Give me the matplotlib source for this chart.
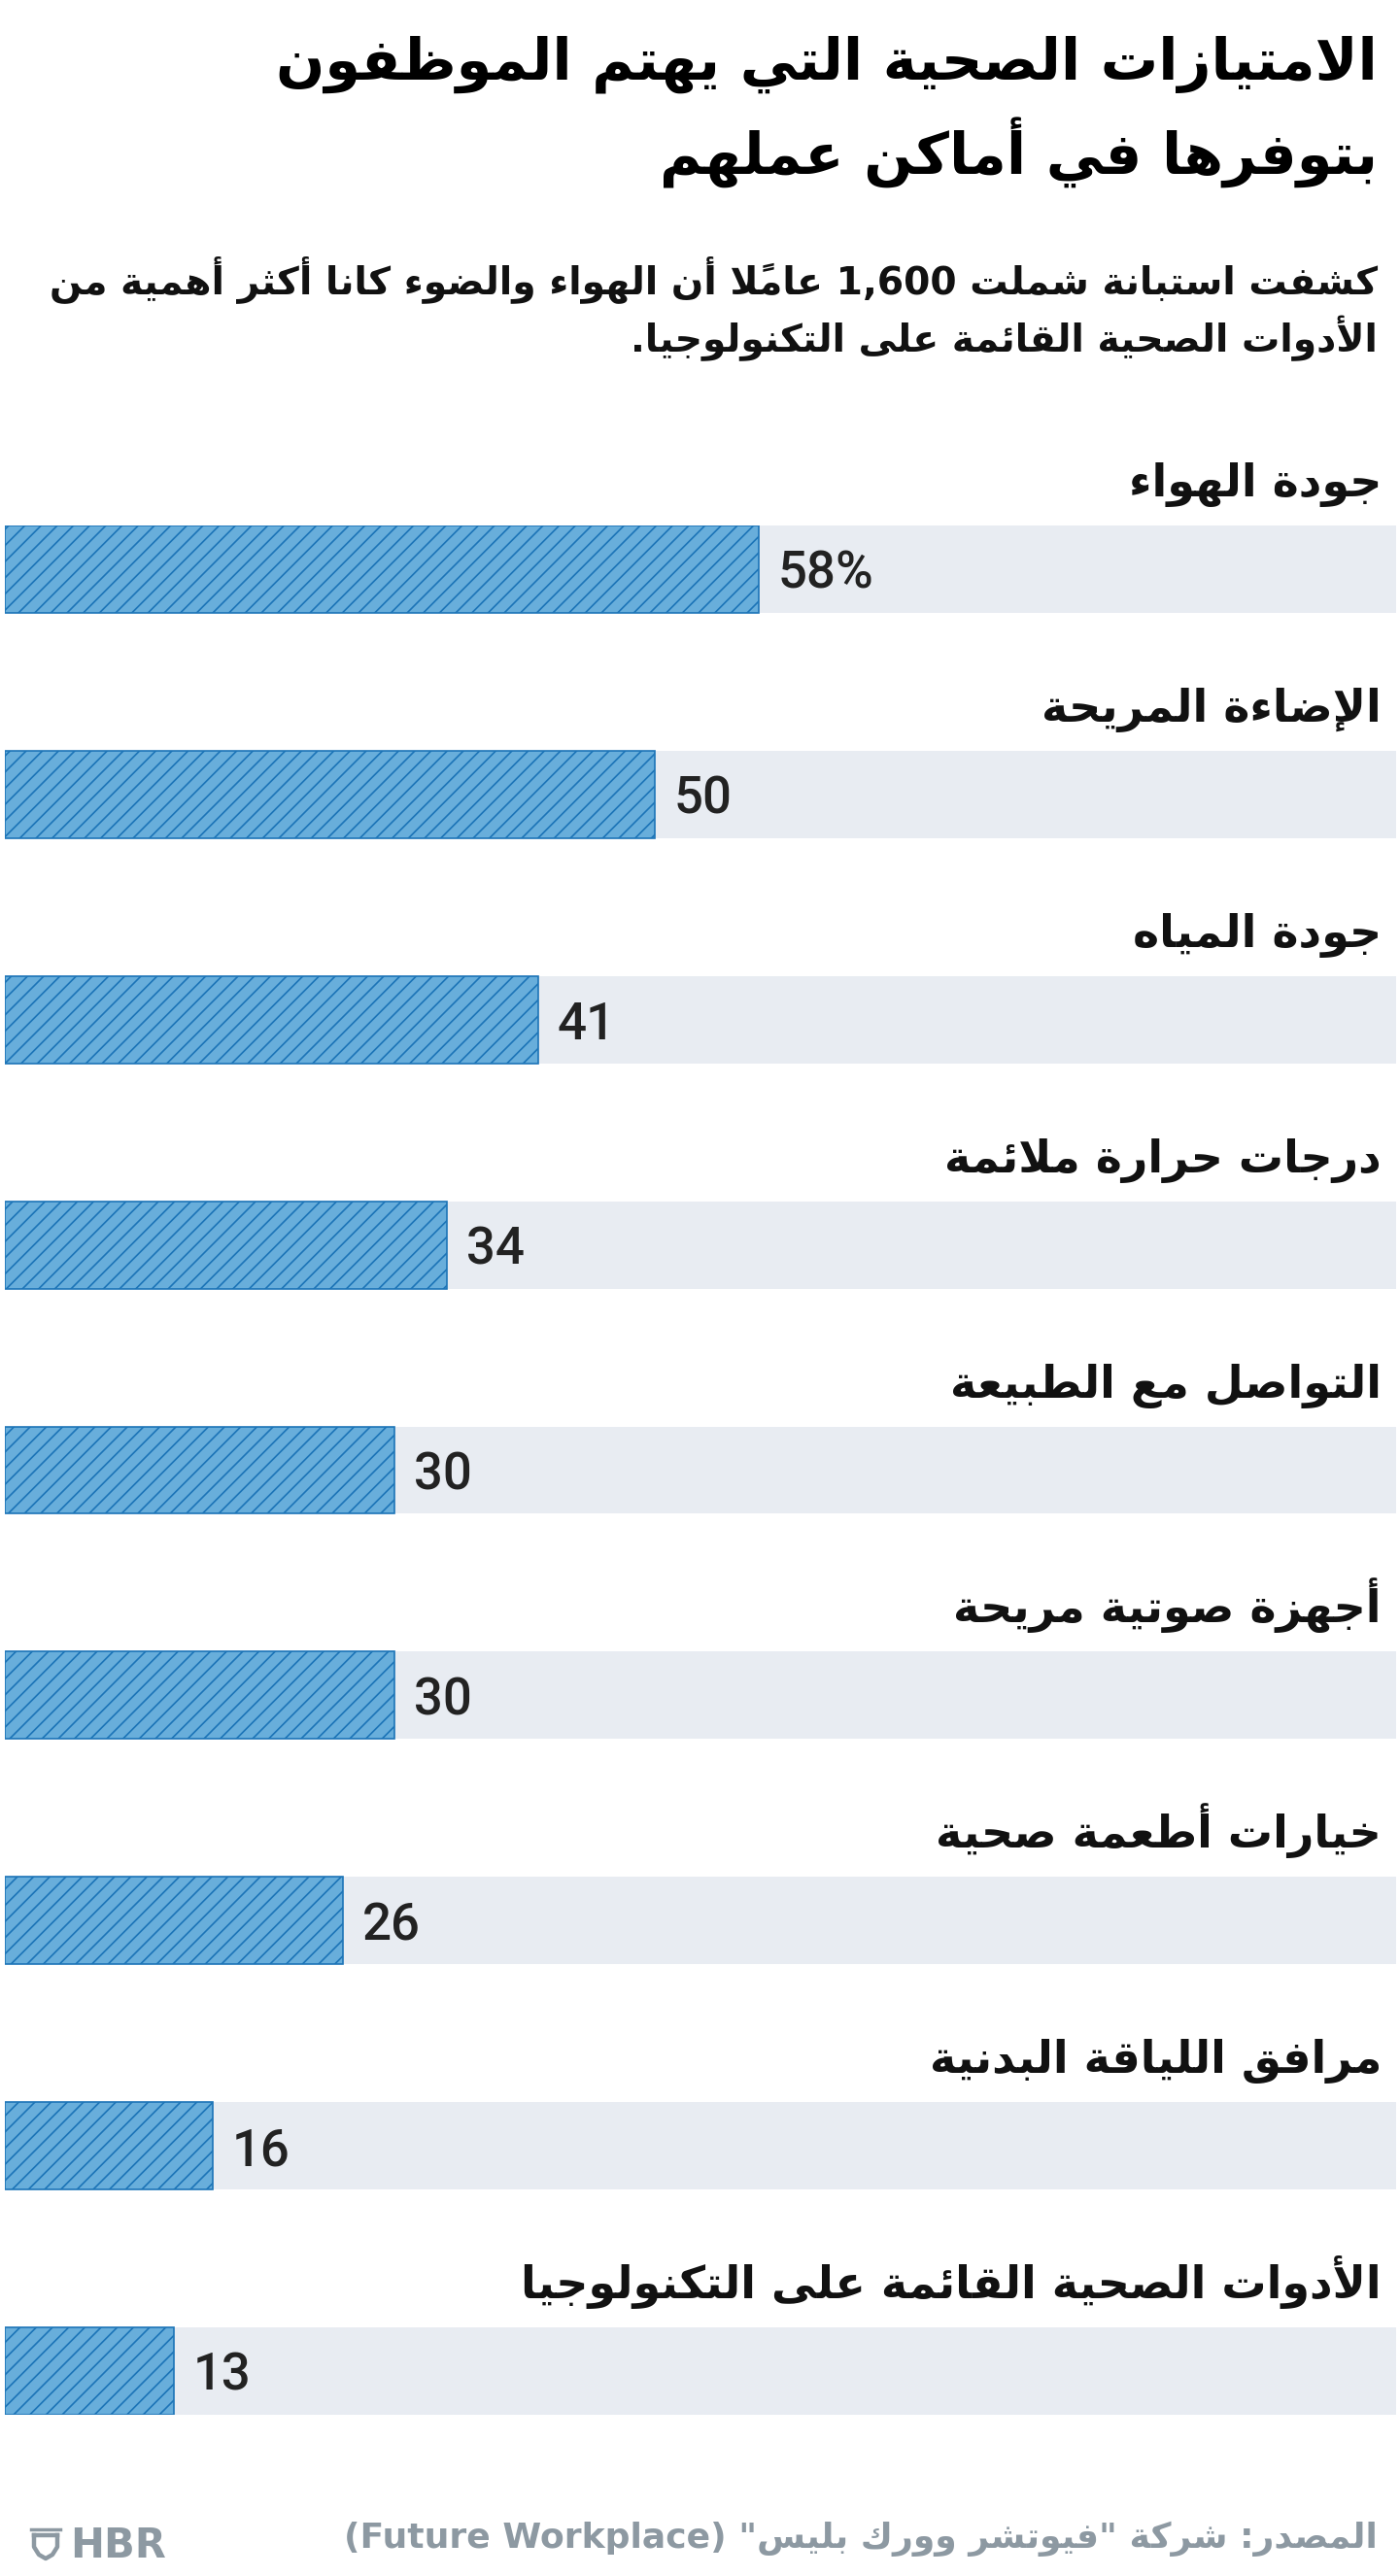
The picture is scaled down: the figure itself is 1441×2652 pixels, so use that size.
import matplotlib
matplotlib.use('Agg')
import matplotlib.pyplot as plt
import matplotlib.transforms as mtransforms
from matplotlib.lines import Line2D

# data
title_lines = ['الامتيازات الصحية التي يهتم الموظفون', 'بتوفرها في أماكن عملهم']
subtitle_lines = ['كشفت استبانة شملت 1,600 عاملاً أن الهواء والضوء كانا أكثر أهمية من',
                  'الأدوات الصحية القائمة على التكنولوجيا.']
categories = ['جودة الهواء', 'الإضاءة المريحة', 'جودة المياه', 'درجات حرارة ملائمة',
              'التواصل مع الطبيعة', 'أجهزة صوتية مريحة', 'خيارات أطعمة صحية',
              'مرافق اللياقة البدنية', 'الأدوات الصحية القائمة على التكنولوجيا']
values = [58, 50, 41, 34, 30, 30, 26, 16, 13]
value_labels = ['58%', '50', '41', '34', '30', '30', '26', '16', '13']
source = 'المصدر: شركة "فيوتشر وورك بليس" (Future Workplace)'

# --- minimal arabic shaping (presentation forms) + visual reordering ---
four = {'ئ': 0xFE89, 'ب': 0xFE8F, 'ت': 0xFE95, 'ث': 0xFE99, 'ج': 0xFE9D, 'ح': 0xFEA1,
        'خ': 0xFEA5, 'س': 0xFEB1, 'ش': 0xFEB5, 'ص': 0xFEB9, 'ض': 0xFEBD, 'ط': 0xFEC1,
        'ظ': 0xFEC5, 'ع': 0xFEC9, 'غ': 0xFECD, 'ف': 0xFED1, 'ق': 0xFED5, 'ك': 0xFED9,
        'ل': 0xFEDD, 'م': 0xFEE1, 'ن': 0xFEE5, 'ه': 0xFEE9, 'ي': 0xFEF1}
two = {'آ': 0xFE81, 'أ': 0xFE83, 'ؤ': 0xFE85, 'إ': 0xFE87, 'ا': 0xFE8D, 'ة': 0xFE93,
       'د': 0xFEA9, 'ذ': 0xFEAB, 'ر': 0xFEAD, 'ز': 0xFEAF, 'و': 0xFEED, 'ى': 0xFEEF}
one = {'ء': 0xFE80}
lamalef = {'آ': 0xFEF5, 'أ': 0xFEF7, 'إ': 0xFEF9, 'ا': 0xFEFB}
marks = set(chr(c) for c in range(0x064B, 0x0653))


def shape(s):
    toks = []
    i = 0
    while i < len(s):
        c = s[i]
        if c == 'ل' and i + 1 < len(s) and s[i + 1] in lamalef:
            toks.append(['LA', s[i + 1], '']); i += 2; continue
        if c in marks and toks:
            toks[-1][2] += c; i += 1; continue
        if c in four:
            toks.append(['D', c, ''])
        elif c in two:
            toks.append(['R', c, ''])
        elif c in one:
            toks.append(['U', c, ''])
        else:
            toks.append(['O', c, ''])
        i += 1
    out = []
    for k, (kind, c, mk) in enumerate(toks):
        prev_j = k > 0 and toks[k - 1][0] == 'D'
        next_j = kind == 'D' and k + 1 < len(toks) and toks[k + 1][0] in ('D', 'R', 'LA')
        if kind == 'D':
            b = four[c]
            g = b + (3 if prev_j and next_j else 1 if prev_j else 2 if next_j else 0)
        elif kind == 'R':
            g = two[c] + (1 if prev_j else 0)
        elif kind == 'LA':
            g = lamalef[c] + (1 if prev_j else 0)
        elif kind == 'U':
            g = one[c]
        else:
            out.append(('O', c + mk)); continue
        out.append(('A', chr(g) + mk))
    return out


def rtl(s):
    cl = shape(s)
    d = []
    for kind, c in cl:
        if kind == 'A':
            d.append('R')
        elif c[0].isascii() and c[0].isalnum():
            d.append('L')
        else:
            d.append('N')
    res = list(d)
    for k in range(len(d)):
        if d[k] == 'N':
            p = next((d[j] for j in range(k - 1, -1, -1) if d[j] != 'N'), 'R')
            n = next((d[j] for j in range(k + 1, len(d)) if d[j] != 'N'), 'R')
            res[k] = 'L' if p == 'L' and n == 'L' else 'R'
    runs = []
    for k, (kind, c) in enumerate(cl):
        if runs and runs[-1][0] == res[k]:
            runs[-1][1].append(c)
        else:
            runs.append([res[k], [c]])
    mirror = {'(': ')', ')': '(', '[': ']', ']': '['}
    text = ''
    for dr, cs in reversed(runs):
        if dr == 'R':
            text += ''.join(mirror.get(c, c) for c in reversed(cs))
        else:
            text += ''.join(cs)
    return text


W, H = 1441, 2652
fig = plt.figure(figsize=(W / 100, H / 100), dpi=100)
fig.patch.set_facecolor('white')
renderer = fig.canvas.get_renderer()


def fx(x):
    return x / W


def fy(y):
    return 1 - y / H


def fit(t, target):
    w = t.get_window_extent(renderer).width
    t.set_fontsize(t.get_fontsize() * target / w)
    return t.get_fontsize()


# title
t1 = fig.text(fx(1418), fy(82), rtl(title_lines[0]), ha='right', va='baseline',
              fontsize=40, fontweight='bold', color='#000000')
fs = fit(t1, 1134)
fig.text(fx(1418), fy(180), rtl(title_lines[1]), ha='right', va='baseline',
         fontsize=fs, fontweight='bold', color='#000000')

# subtitle
s1 = fig.text(fx(1418), fy(302), rtl(subtitle_lines[0]), ha='right', va='baseline',
              fontsize=24, fontweight='bold', color='#111111')
fs = fit(s1, 1372)
fig.text(fx(1418), fy(362), rtl(subtitle_lines[1]), ha='right', va='baseline',
         fontsize=fs, fontweight='bold', color='#111111')

# bars
px_per_pct = 13.38
ax_left, ax_right, ax_top, ax_bot = 5, 1437, 541, 2486
ax = fig.add_axes([fx(ax_left), fy(ax_bot), (ax_right - ax_left) / W, (ax_bot - ax_top) / H])
xmax = (ax_right - ax_left) / px_per_pct
bh = 90 / 232
ys = list(range(len(categories)))
ax.set_xlim(0, xmax)
ax.set_ylim(len(categories) - 1 + bh / 2, -bh / 2)
ax.axis('off')

plt.rcParams['hatch.linewidth'] = 1.2
ax.barh(ys, [xmax] * len(ys), height=bh, color='#e8ecf2', linewidth=0)
ax.barh(ys, values, height=bh, color='#68aedb', edgecolor='#1c74b7', hatch='//', linewidth=1.2)

trans = mtransforms.blended_transform_factory(ax.transAxes, ax.transData)
lab = []
for y, c in zip(ys, categories):
    lab.append(ax.text(0.9895, y - 0.323, rtl(c), transform=trans, ha='right', va='baseline',
                       fontsize=30, fontweight='bold', color='#111111'))
fs = fit(lab[-1], 884)
for t in lab:
    t.set_fontsize(fs)

for y, v, s in zip(ys, values, value_labels):
    ax.text(v + 20 / px_per_pct, y + 0.086, s, ha='left', va='baseline',
            fontsize=38, family='Roboto', fontweight='medium', color='#222222')

# footer
gray = '#8d99a2'
f = fig.text(fx(1418), fy(2623), rtl(source), ha='right', va='baseline',
             fontsize=24, fontweight='bold', color=gray)
fit(f, 1068)
fig.text(fx(72), fy(2633), 'HBR', ha='left', va='baseline', fontsize=30,
         fontweight='heavy', color=gray)
# shield mark
fig.add_artist(Line2D([fx(32), fx(62)], [fy(2604), fy(2604)], color=gray, lw=2.5))
fig.add_artist(Line2D([fx(35), fx(35), fx(40), fx(47), fx(54), fx(59), fx(59)],
                      [fy(2610), fy(2622), fy(2630), fy(2634), fy(2630), fy(2622), fy(2610)],
                      color=gray, lw=3.2, solid_joinstyle='round'))
fig.add_artist(Line2D([fx(35), fx(59)], [fy(2610), fy(2610)], color=gray, lw=3.2))

fig.savefig('out.png', dpi=100)
